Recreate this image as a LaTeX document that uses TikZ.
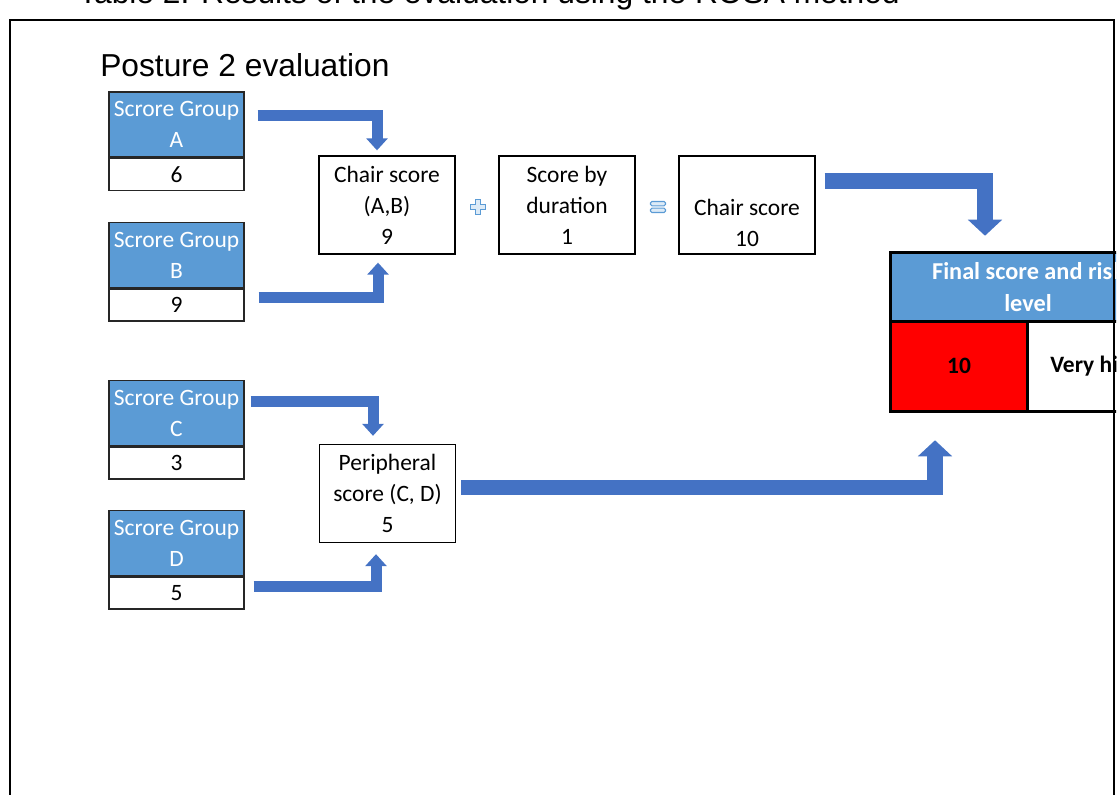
\documentclass[tikz,border=0pt]{standalone}
\usepackage{fontspec}
\setmainfont{Carlito}
\newfontfamily\arialfont{Liberation Sans}
\usetikzlibrary{arrows.meta,calc}
\definecolor{hdrblue}{HTML}{5B9BD5}
\definecolor{arrblue}{HTML}{4472C4}
\definecolor{plusfill}{HTML}{DDEBF7}
\begin{document}
\begin{tikzpicture}[x=0.75pt,y=-0.75pt,
 every node/.style={font=\fontsize{17.6}{23.25}\selectfont, inner sep=0pt, align=center},
 titletext/.style={font=\arialfont\fontsize{23.8}{28}\selectfont, anchor=base west},
 grphdr/.style={rectangle, draw=black!85, line width=1pt, fill=hdrblue, text=white, minimum width=101.25pt, minimum height=48.75pt},
 grpval/.style={rectangle, draw=black!85, line width=1pt, fill=white, minimum width=101.25pt, minimum height=24pt, anchor=north},
 scorebox/.style={rectangle, draw=black, line width=1pt, minimum width=102pt, minimum height=73.5pt},
 barrow/.style={draw=arrblue, line width=8.25pt, line join=miter, -{Triangle[width=15.75pt,length=9pt]}},
 bigarrow/.style={draw=arrblue, line width=11.5pt, line join=miter, -{Triangle[width=25pt,length=12pt]}},
 tblline/.style={draw=black, line width=2.25pt},
]
\useasboundingbox (0,0) rectangle (1120,795);

\node[titletext] (cap) at (78,4) {Table 2. Results of the evaluation using the ROSA method};

\begin{scope}
\clip (0,0) rectangle (1116,795);

\node[titletext] (title) at (100,77) {Posture 2 evaluation};

% score groups
\node[grphdr] (ah) at (176.5,124.5) {Scrore Group\\A};
\node[grpval] (av) at (ah.south) {6};
\node[grphdr] (bh) at (176.5,255) {Scrore Group\\B};
\node[grpval] (bv) at (bh.south) {9};
\node[grphdr] (chd) at (176.5,413) {Scrore Group\\C};
\node[grpval] (cv) at (chd.south) {3};
\node[grphdr] (dh) at (176.5,543) {Scrore Group\\D};
\node[grpval] (dv) at (dh.south) {5};

% score boxes
\node[scorebox] (chair) at (387,205) {Chair score\\(A,B)\\9};
\node[scorebox] (dur) at (567,205) {Score by\\duration\\1};
\node[scorebox] (cs) at (747,205) {\strut\\Chair score\\10};
\node[scorebox] (per) at (387.5,493.5) {Peripheral\\score (C, D)\\5};

% plus and equal signs
\draw[draw=hdrblue, fill=plusfill, line width=0.8pt, shift={(478,207)}]
 (-2.7,-7.5) -- (2.7,-7.5) -- (2.7,-2.7) -- (7.5,-2.7) -- (7.5,2.7) -- (2.7,2.7) -- (2.7,7.5)
 -- (-2.7,7.5) -- (-2.7,2.7) -- (-7.5,2.7) -- (-7.5,-2.7) -- (-2.7,-2.7) -- cycle;
\draw[draw=hdrblue, fill=plusfill, line width=0.8pt, rounded corners=1pt, shift={(658,207)}]
 (-7.5,-5.5) rectangle (7.5,-1.2) (-7.5,1.2) rectangle (7.5,5.5);

% final table
\node[rectangle, fill=hdrblue, text=white, font=\fontsize{18.2}{24}\selectfont\bfseries,
 minimum width=205.5pt, minimum height=51pt] (fh) at (1028,287) {Final score and risk\\level};
\node[rectangle, fill=red, font=\fontsize{17.6}{23.25}\selectfont\bfseries,
 minimum width=102pt, minimum height=67.5pt] (fr) at (959,366) {10};
\node[rectangle, fill=white, font=\fontsize{17.6}{23.25}\selectfont\bfseries,
 minimum width=103.5pt, minimum height=67.5pt] (fw) at (1096,366) {Very high};
\draw[tblline] (fh.north west) rectangle (fw.south east);
\draw[tblline] (fh.south west) -- (fh.south east);
\draw[tblline] (fr.north east) -- (fr.south east);

% arrows
\draw[barrow] ([shift={(13,-8.5)}]ah.east) -| ([shift={(-10,-5)}]chair.north);
\draw[barrow] ([shift={(14,-7)}]bv.east) -| ([shift={(-9,8)}]chair.south);
\draw[barrow] ([shift={(6,-11.5)}]chd.east) -| ([shift={(-14.5,-8)}]per.north);
\draw[barrow] ([shift={(9,-6)}]dv.east) -| ([shift={(-11.5,11)}]per.south);
\draw[bigarrow] ([shift={(9,-24)}]cs.east) -| ([shift={(-43,-17)}]fh.north);
\draw[bigarrow] ([shift={(5,-6)}]per.east) -| ([shift={(-24,29)}]fr.south);
\end{scope}

% outer frame
\draw[line width=2pt] (10,800) -- (10,20) -- (1114,20) -- (1114,800);
\end{tikzpicture}
\end{document}
